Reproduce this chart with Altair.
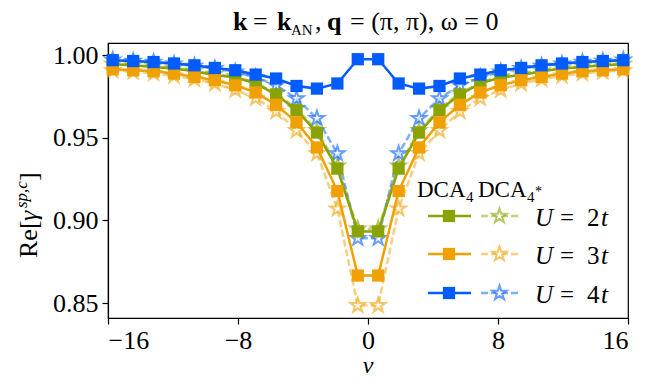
import altair as alt
import pandas as pd

# Matsubara frequencies nu_n
nu = [-15.708, -14.451, -13.195, -11.938, -10.681, -9.425, -8.168, -6.912, -5.655,
      -4.398, -3.142, -1.885, -0.628, 0.628, 1.885, 3.142, 4.398, 5.655, 6.912,
      8.168, 9.425, 10.681, 11.938, 13.195, 14.451, 15.708]

dca4_u2 = [0.9946, 0.9940, 0.9929, 0.9920, 0.9903, 0.9879, 0.9866, 0.9829, 0.9762,
           0.9667, 0.9532, 0.9314, 0.8934, 0.8934, 0.9314, 0.9532, 0.9667, 0.9762,
           0.9829, 0.9866, 0.9879, 0.9903, 0.9920, 0.9929, 0.9940, 0.9946]
dca4_u3 = [0.9915, 0.9909, 0.9903, 0.9889, 0.9869, 0.9849, 0.9818, 0.9775, 0.9700,
           0.9594, 0.9442, 0.9178, 0.8667, 0.8667, 0.9178, 0.9442, 0.9594, 0.9700,
           0.9775, 0.9818, 0.9849, 0.9869, 0.9889, 0.9903, 0.9909, 0.9915]
dca4_u4 = [0.9970, 0.9965, 0.9959, 0.9950, 0.9939, 0.9923, 0.9909, 0.9883, 0.9859,
           0.9814, 0.9798, 0.9829, 0.9976, 0.9976, 0.9829, 0.9798, 0.9814, 0.9859,
           0.9883, 0.9909, 0.9923, 0.9939, 0.9950, 0.9959, 0.9965, 0.9970]
dcas_u2 = [0.9947, 0.9941, 0.9932, 0.9922, 0.9906, 0.9886, 0.9870, 0.9834, 0.9770,
           0.9677, 0.9545, 0.9330, 0.8950, 0.8950, 0.9330, 0.9545, 0.9677, 0.9770,
           0.9834, 0.9870, 0.9886, 0.9906, 0.9922, 0.9932, 0.9941, 0.9947]
dcas_u3 = [0.9907, 0.9900, 0.9890, 0.9875, 0.9855, 0.9828, 0.9790, 0.9740, 0.9660,
           0.9545, 0.9406, 0.9071, 0.8486, 0.8486, 0.9071, 0.9406, 0.9545, 0.9660,
           0.9740, 0.9790, 0.9828, 0.9855, 0.9875, 0.9890, 0.9900, 0.9907]
dcas_u4 = [0.9972, 0.9965, 0.9958, 0.9948, 0.9935, 0.9920, 0.9900, 0.9866, 0.9818,
           0.9738, 0.9618, 0.9405, 0.8892, 0.8892, 0.9405, 0.9618, 0.9738, 0.9818,
           0.9866, 0.9900, 0.9920, 0.9935, 0.9948, 0.9958, 0.9965, 0.9972]

u_labels = ["2", "3", "4"]
colors = ["#8aa300", "#f0a000", "#005cff"]
x_ticks = [-16, -8, 0, 8, 16]
y_ticks = [0.85, 0.90, 0.95, 1.00]

STAR = ("M0,-1L0.2245,-0.309L0.951,-0.309L0.3633,0.118L0.5878,0.809L0,0.382"
        "L-0.5878,0.809L-0.3633,0.118L-0.951,-0.309L-0.2245,-0.309Z")
FONT = "Liberation Serif"

X = alt.X("nu:Q", scale=alt.Scale(domain=[-16, 16], nice=False),
          axis=alt.Axis(values=x_ticks, title=None, format="d", labelPadding=3))
Y = alt.Y("v:Q", scale=alt.Scale(domain=[0.841, 1.0074], nice=False, zero=False),
          axis=alt.Axis(values=y_ticks, format=".2f", title=None))

layers = []
stars = [dcas_u2, dcas_u3, dcas_u4]
squares = [dca4_u2, dca4_u3, dca4_u4]
for vals, c in zip(stars, colors):
    df = pd.DataFrame({"nu": nu, "v": vals})
    b = alt.Chart(df)
    layers.append(b.mark_line(strokeWidth=2.5, strokeDash=[7, 3], opacity=0.5, color=c)
                  .encode(x=X, y=Y))
    layers.append(b.mark_point(shape=STAR, size=230, filled=False, stroke=c, strokeWidth=2,
                               strokeOpacity=0.6, fill="white", fillOpacity=0.6)
                  .encode(x=X, y=Y))
for vals, c in zip(squares, colors):
    df = pd.DataFrame({"nu": nu, "v": vals})
    b = alt.Chart(df)
    layers.append(b.mark_line(strokeWidth=2.5, color=c).encode(x=X, y=Y))
    layers.append(b.mark_point(shape="square", size=150, filled=True, color=c, opacity=1)
                  .encode(x=X, y=Y))

one = pd.DataFrame({"a": [0]})
OX, OY = 108, 43  # image position of the plot origin


def txt(t, x, y, size=26, style="normal", weight="normal", angle=0,
        align="left", baseline="alphabetic"):
    return alt.Chart(one).mark_text(
        text=t, font=FONT, fontSize=size, fontStyle=style, fontWeight=weight,
        align=align, baseline=baseline, angle=angle, color="black"
    ).encode(x=alt.value(x - OX), y=alt.value(y - OY))


# title
layers += [
    txt("k", 233, 30, weight="bold"),
    txt("=", 253, 30),
    txt("k", 277, 30, weight="bold"),
    txt("AN", 291, 35, size=15),
    txt(",", 315, 30),
    txt("q", 327, 30, weight="bold"),
    txt("= (π, π), ω = 0", 350, 30),
]
# x title
layers.append(txt("ν", 368, 378, size=24, style="italic", align="center",
                  baseline="bottom"))
# y title (rotated)
layers += [
    txt("Re[", 37, 258, angle=270),
    txt("γ", 37, 221, style="italic", angle=270),
    txt("sp,c", 27, 208, size=17, style="italic", angle=270),
    txt("]", 37, 181, angle=270),
]
# legend header
layers += [
    txt("DCA", 417, 197, size=23),
    txt("4", 466, 202, size=15),
    txt("DCA", 478, 197, size=23),
    txt("4", 527, 202, size=15),
    txt("*", 535, 196, size=14),
]
row_y = [216, 254, 293]
for u, c, ry in zip(u_labels, colors, row_y):
    layers.append(alt.Chart(one).mark_rule(color=c, strokeWidth=2.5).encode(
        x=alt.value(428 - OX), x2=alt.value(471 - OX), y=alt.value(ry - OY)))
    layers.append(alt.Chart(one).mark_point(shape="square", size=150, filled=True,
                                            color=c, opacity=1).encode(
        x=alt.value(449 - OX), y=alt.value(ry - OY)))
    layers.append(alt.Chart(one).mark_rule(color=c, strokeWidth=2.5, strokeDash=[7, 3],
                                           opacity=0.5).encode(
        x=alt.value(481 - OX), x2=alt.value(518 - OX), y=alt.value(ry - OY)))
    layers.append(alt.Chart(one).mark_point(shape=STAR, size=230, filled=False, stroke=c,
                                            strokeWidth=2, strokeOpacity=0.6,
                                            fill="white", fillOpacity=0.6).encode(
        x=alt.value(499.5 - OX), y=alt.value(ry - OY)))
    layers += [
        txt("U", 535, ry + 10, size=25, style="italic"),
        txt("=", 560, ry + 10, size=25),
        txt(u, 587, ry + 10, size=25),
        txt("t", 601, ry + 10, size=25, style="italic"),
    ]

chart = alt.layer(*layers).properties(
    width=520, height=275,
    autosize=alt.AutoSizeParams(type="none"),
    padding={"left": 100, "top": 35, "right": 21, "bottom": 60},
).configure_view(stroke="black", strokeWidth=1.2).configure_axis(
    labelFont=FONT, labelFontSize=26, labelColor="black", titleFont=FONT,
    titleColor="black", tickColor="black", domainColor="black", tickSize=6,
    tickWidth=1.2, domainWidth=1.2, grid=False, labelPadding=4,
)

chart.save("out.html", embed_options={"renderer": "svg", "actions": False})
